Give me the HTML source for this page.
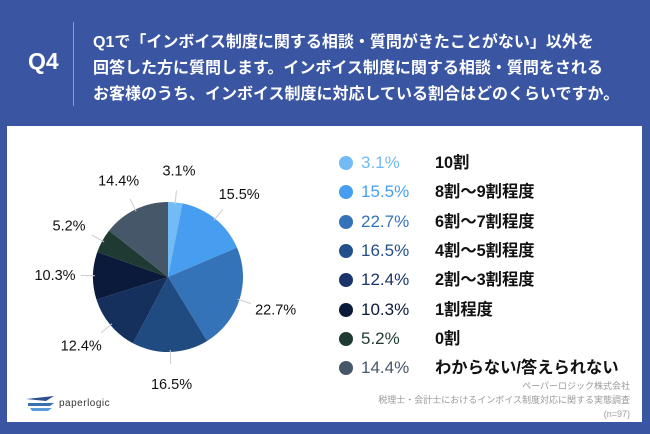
<!DOCTYPE html>
<html><head><meta charset="utf-8">
<style>
body{margin:0;width:650px;height:434px;background:#3a55a2;font-family:"Liberation Sans","Noto Sans CJK JP",sans-serif;overflow:hidden;position:relative}
.abs{position:absolute}
#q{left:28px;top:48px;color:#fff;font-size:23px;font-weight:bold}
#div{left:73px;top:22px;width:1px;height:84px;background:#8a9ccc}
#title{left:93px;top:30px;color:#fff;font-size:16px;font-weight:bold;line-height:26px;white-space:nowrap}
#panel{left:7px;top:126px;width:635px;height:296px;background:#fff}
.leg{position:absolute;left:0;height:20px;line-height:20px;white-space:nowrap}
.dot{position:absolute;left:339px;top:3px;width:14px;height:14px;border-radius:50%}
.pct{position:absolute;left:361px;font-size:17px}
.lab{position:absolute;left:435px;color:#111;font-weight:bold;font-size:16.3px}
#foot{right:20px;top:379px;color:#999;font-size:9px;line-height:14px;text-align:right}
</style></head><body>
<div class="abs" id="q">Q4</div>
<div class="abs" id="div"></div>
<div class="abs" id="title">Q1で「インボイス制度に関する相談・質問がきたことがない」以外を<br>回答した方に質問します。インボイス制度に関する相談・質問をされる<br>お客様のうち、インボイス制度に対応している割合はどのくらいですか。</div>
<div class="abs" id="panel"></div>
<svg class="abs" id="pie" style="left:0;top:0" width="650" height="434"></svg>
<div class="abs" id="legend" style="left:0;top:0"></div>
<div class="abs" style="left:24px;top:393px">
<svg width="36" height="22"><path d="M2 6 L30 3 L22 8 Z" fill="#2f4f8f"/><path d="M4 10 H30 L26 13 H4Z" fill="#3a6fb0"/><path d="M6 15 H28 L24 18 H8Z" fill="#5a9ad8"/></svg>
<span style="position:absolute;left:35px;top:5px;font-size:10px;color:#333;letter-spacing:0.5px">paperlogic</span></div>
<div class="abs" id="foot">ペーパーロジック株式会社<br>税理士・会計士におけるインボイス制度対応に関する実態調査<br>(n=97)</div>
<script>
const categories=["10割","8割〜9割程度","6割〜7割程度","4割〜5割程度","2割〜3割程度","1割程度","0割","わからない/答えられない"];
const values=[3.1,15.5,22.7,16.5,12.4,10.3,5.2,14.4];
const valueLabels=["3.1%","15.5%","22.7%","16.5%","12.4%","10.3%","5.2%","14.4%"];
const colors=["#72bbf5","#479ef0","#3473b8","#1f4b80","#15305c","#0b1a3a","#1f3a33","#465769"];
const legendColors=["#72bbf5","#479ef0","#3473b8","#23508a","#1a356a","#0b1a3a","#1f3a33","#465769"];
const NS="http://www.w3.org/2000/svg";
const svg=document.getElementById('pie');
const cx=168,cy=277,r=75;
const total=values.reduce((a,b)=>a+b,0);
function pt(a,rad){return [cx+rad*Math.sin(a),cy-rad*Math.cos(a)];}
let acc=0;
values.forEach((v,i)=>{
 const a0=acc/total*2*Math.PI; acc+=v; const a1=acc/total*2*Math.PI;
 const p0=pt(a0,r),p1=pt(a1,r);
 const path=document.createElementNS(NS,'path');
 path.setAttribute('d',`M${cx},${cy} L${p0[0]},${p0[1]} A${r},${r} 0 ${a1-a0>Math.PI?1:0} 1 ${p1[0]},${p1[1]} Z`);
 path.setAttribute('fill',colors[i]);
 
 
 svg.appendChild(path);
 const am=(a0+a1)/2;
 const l0=pt(am,r-2),l1=pt(am,r+12);
 const ln=document.createElementNS(NS,'line');
 ln.setAttribute('x1',l0[0]);ln.setAttribute('y1',l0[1]);ln.setAttribute('x2',l1[0]);ln.setAttribute('y2',l1[1]);
 ln.setAttribute('stroke','#ccc');ln.setAttribute('stroke-width','1');
 
 
 svg.appendChild(ln);
 const t=pt(am,r+32);
 const tx=document.createElementNS(NS,'text');
 tx.setAttribute('x',t[0]+Math.sin(am)*6);tx.setAttribute('y',t[1]+5);
 tx.setAttribute('text-anchor','middle');tx.setAttribute('font-size','14.5');tx.setAttribute('fill','#111');
 tx.setAttribute('font-family','"Liberation Sans",sans-serif');
 tx.textContent=valueLabels[i];
 
 
 svg.appendChild(tx);
});
const leg=document.getElementById('legend');
categories.forEach((c,i)=>{
 const row=document.createElement('div');
 row.className='leg';row.style.top=(153+i*29.3)+'px';
 
 
 row.innerHTML=`<span class="dot" style="background:${legendColors[i]}"></span><span class="pct" style="color:${legendColors[i]}">${valueLabels[i]}</span><span class="lab">${c}</span>`;
 leg.appendChild(row);
});
</script>
</body></html>
